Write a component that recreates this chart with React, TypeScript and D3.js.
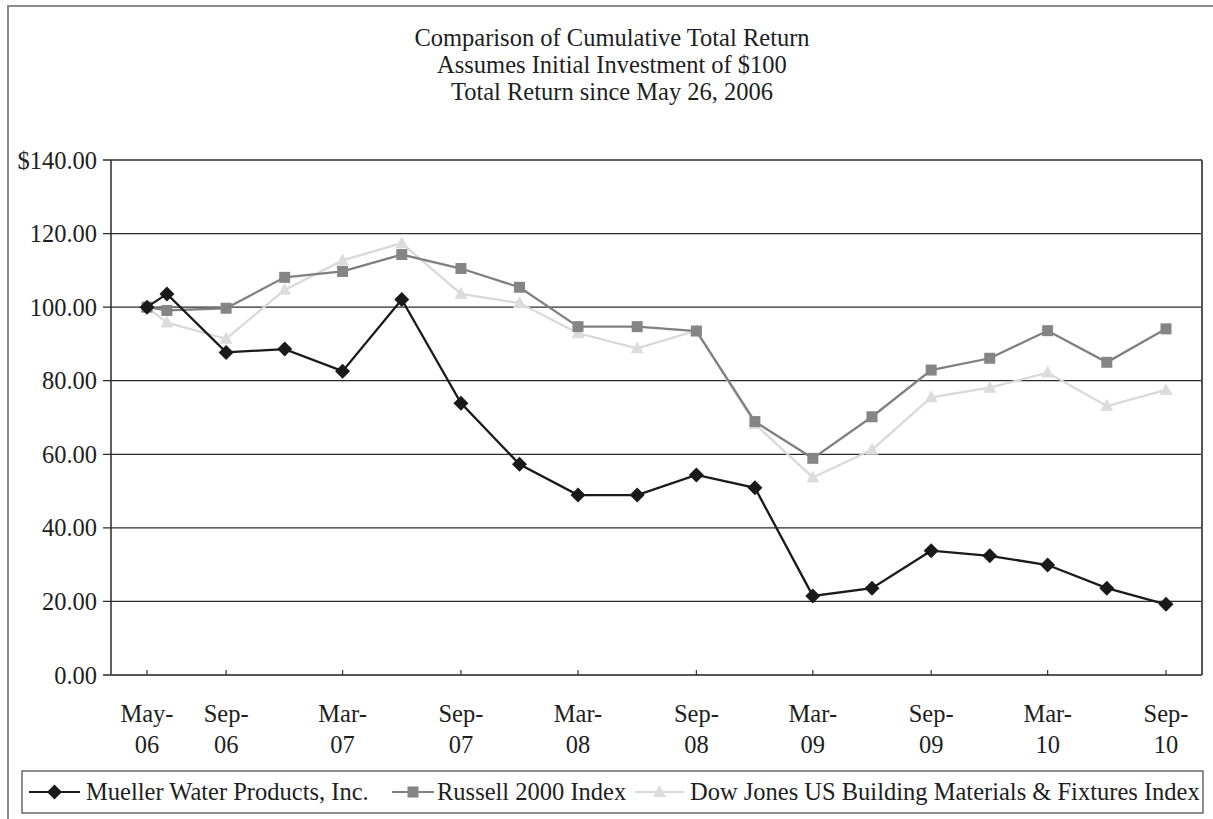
import * as d3 from "d3";

const months = [
  "2006-05", "2006-06", "2006-09", "2006-12", "2007-03", "2007-06", "2007-09",
  "2007-12", "2008-03", "2008-06", "2008-09", "2008-12", "2009-03", "2009-06",
  "2009-09", "2009-12", "2010-03", "2010-06", "2010-09",
];
const mueller = [
  100, 103.6, 87.7, 88.6, 82.6, 102.1, 73.9, 57.3, 48.9, 48.9, 54.4, 50.9,
  21.5, 23.6, 33.8, 32.4, 29.9, 23.6, 19.2,
];
const russell = [
  100, 99.1, 99.7, 108.1, 109.7, 114.3, 110.5, 105.4, 94.7, 94.7, 93.5, 68.9,
  58.9, 70.2, 82.9, 86.1, 93.6, 85.0, 94.1,
];
const dowJones = [
  100, 95.8, 91.4, 104.7, 112.7, 117.4, 103.6, 101.1, 92.9, 88.8, 93.6, 68.2,
  53.7, 61.2, 75.5, 78.1, 82.2, 73.1, 77.5,
];
const tickMonths = [
  "2006-05", "2006-09", "2007-03", "2007-09", "2008-03", "2008-09",
  "2009-03", "2009-09", "2010-03", "2010-09",
];
const yTicks = [0, 20, 40, 60, 80, 100, 120, 140];
const titleLines = [
  "Comparison of Cumulative Total Return",
  "Assumes Initial Investment of $100",
  "Total Return since May 26, 2006",
];

const W = 1213;
const H = 819;
const font = "'Liberation Serif', 'Times New Roman', serif";
const fs = 24.5;
const plot = { left: 111, right: 1202, top: 160, bottom: 675 };
const pad = 36;

const parse = d3.timeParse("%Y-%m");
const fmtMon = d3.timeFormat("%b-");
const fmtYr = d3.timeFormat("%y");

const series = [
  { name: "Mueller Water Products, Inc.", values: mueller, line: "#1a1a1a", fill: "#1a1a1a", marker: "diamond" },
  { name: "Russell 2000 Index", values: russell, line: "#808080", fill: "#858585", marker: "square" },
  { name: "Dow Jones US Building Materials & Fixtures Index", values: dowJones, line: "#d9d9d9", fill: "#dcdcdc", marker: "triangle" },
];

// legend key positions (key start x, key end x, text x)
const legendPos = [
  { x0: 29, x1: 80, tx: 86 },
  { x0: 392, x1: 434, tx: 437 },
  { x0: 635, x1: 684, tx: 690 },
];

const Marker = ({ type, x, y, fill }: { type: string; x: number; y: number; fill: string }) => {
  if (type === "diamond")
    return <path d={`M${x},${y - 7.5}L${x + 7.5},${y}L${x},${y + 7.5}L${x - 7.5},${y}Z`} fill={fill} />;
  if (type === "square")
    return <rect x={x - 5.5} y={y - 5.5} width={11} height={11} fill={fill} />;
  return <path d={`M${x},${y - 7}L${x + 6.5},${y + 5}L${x - 6.5},${y + 5}Z`} fill={fill} />;
};

export default function App() {
  const dates = months.map((m) => parse(m)!);
  const x = d3
    .scaleTime()
    .domain([dates[0], dates[dates.length - 1]])
    .range([plot.left + pad, plot.right - pad]);
  const y = d3.scaleLinear().domain([0, 140]).range([plot.bottom, plot.top]);
  const line = d3
    .line<number>()
    .x((_, i) => x(dates[i]))
    .y((v) => y(v));

  return (
    <svg width={W} height={H} style={{ display: "block", position: "absolute", left: 0, top: 0 }} fontFamily={font}>
      <rect width={W} height={H} fill="#fff" />
      {/* outer frame (cropped) */}
      <rect x={8} y={6} width={W + 20} height={H + 20} fill="none" stroke="#8a8a8a" strokeWidth={2} />

      {titleLines.map((t, i) => (
        <text key={i} x={612} y={46 + i * 27} textAnchor="middle" fontSize={fs} fill="#1e1e1e">
          {t}
        </text>
      ))}

      {/* gridlines */}
      {yTicks.map((v) => (
        <g key={v}>
          <line x1={plot.left - 8} x2={plot.right} y1={y(v)} y2={y(v)} stroke="#2a2a2a" strokeWidth={1.3} />
          <text x={97} y={y(v)} dy="0.35em" textAnchor="end" fontSize={fs} fill="#1e1e1e">
            {v === 140 ? "$140.00" : v.toFixed(2)}
          </text>
        </g>
      ))}
      <line x1={plot.left} x2={plot.left} y1={plot.top} y2={plot.bottom} stroke="#2a2a2a" strokeWidth={1.5} />
      <line x1={plot.right} x2={plot.right} y1={plot.top} y2={plot.bottom} stroke="#555" strokeWidth={2} />
      <line x1={plot.left} x2={plot.right} y1={plot.bottom} y2={plot.bottom} stroke="#555" strokeWidth={2} />

      {/* x ticks and labels */}
      {tickMonths.map((m) => {
        const d = parse(m)!;
        const tx = x(d);
        return (
          <g key={m}>
            <line x1={tx} x2={tx} y1={plot.bottom - 5} y2={plot.bottom} stroke="#333" strokeWidth={1.2} />
            <text x={tx} y={722} textAnchor="middle" fontSize={fs} fill="#1e1e1e">
              {fmtMon(d)}
            </text>
            <text x={tx} y={753} textAnchor="middle" fontSize={fs} fill="#1e1e1e">
              {fmtYr(d)}
            </text>
          </g>
        );
      })}

      {/* series */}
      {series
        .slice()
        .reverse()
        .map((s) => (
          <g key={s.name}>
            <path d={line(s.values)!} fill="none" stroke={s.line} strokeWidth={2.3} />
            {s.values.map((v, i) => (
              <Marker key={i} type={s.marker} x={x(dates[i])} y={y(v)} fill={s.fill} />
            ))}
          </g>
        ))}

      {/* legend */}
      <rect x={22} y={771} width={1181} height={42} fill="#fff" stroke="#444" strokeWidth={1.2} />
      {series.map((s, i) => {
        const p = legendPos[i];
        return (
          <g key={s.name}>
            <line x1={p.x0} x2={p.x1} y1={792} y2={792} stroke={s.line} strokeWidth={2} />
            <Marker type={s.marker} x={(p.x0 + p.x1) / 2} y={792} fill={s.fill} />
            <text x={p.tx} y={800} fontSize={fs} fill="#1e1e1e">
              {s.name}
            </text>
          </g>
        );
      })}
    </svg>
  );
}
